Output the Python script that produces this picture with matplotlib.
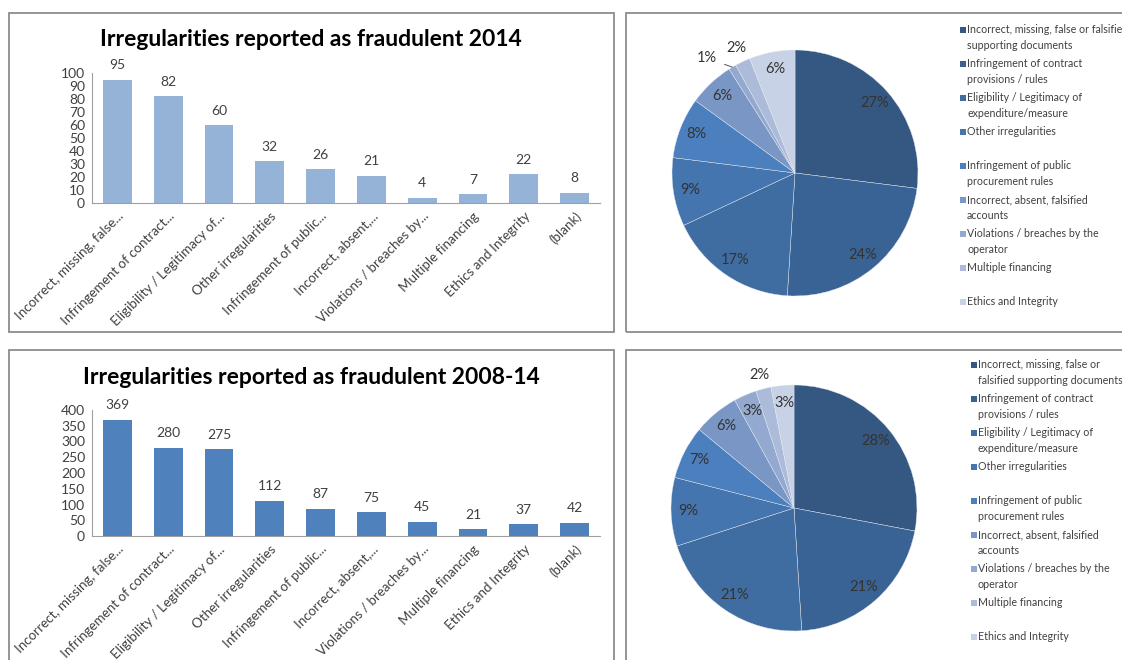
import numpy as np
import matplotlib
matplotlib.use("Agg")
import matplotlib.pyplot as plt
from matplotlib.patches import Rectangle

plt.rcParams['font.family'] = ['Lato', 'DejaVu Sans']

# ---- data ----
tick_labels = ["Incorrect, missing, false...", "Infringement of contract...",
               "Eligibility / Legitimacy of...", "Other irregularities",
               "Infringement of public...", "Incorrect, absent,...",
               "Violations / breaches by...", "Multiple financing",
               "Ethics and Integrity", "(blank)"]
counts_2014 = [95, 82, 60, 32, 26, 21, 4, 7, 22, 8]
counts_0814 = [369, 280, 275, 112, 87, 75, 45, 21, 37, 42]

pct_2014 = [27, 24, 17, 9, 8, 6, 1, 2, 6]
pct_0814 = [28, 21, 21, 9, 7, 6, 3, 2, 3]

legend_2014 = ["Incorrect, missing, false or falsified\nsupporting documents",
               "Infringement of contract\nprovisions / rules",
               "Eligibility / Legitimacy of\nexpenditure/measure",
               "Other irregularities",
               "Infringement of public\nprocurement rules",
               "Incorrect, absent, falsified\naccounts",
               "Violations / breaches by the\noperator",
               "Multiple financing",
               "Ethics and Integrity"]
legend_0814 = ["Incorrect, missing, false or\nfalsified supporting documents"] + legend_2014[1:]

pie_colors = ['#355882', '#3A6395', '#3F6DA2', '#4475AF', '#4B7FBE',
              '#7A96C5', '#94A9D0', '#ACBBDA', '#C8D2E6']
text_col = '#404040'

W, H = 1122, 660
fig = plt.figure(figsize=(W / 100, H / 100), dpi=100)


def px_axes(x0, y0, x1, y1):
    return fig.add_axes([x0 / W, 1 - y1 / H, (x1 - x0) / W, (y1 - y0) / H])


def frame(x0, y0, x1, y1):
    fig.patches.append(Rectangle((x0 / W, 1 - y1 / H), (x1 - x0) / W, (y1 - y0) / H,
                                 transform=fig.transFigure, fill=False,
                                 edgecolor='#8c8c8c', linewidth=1.3))


def bar_panel(y_top, y_bot, title_y, values, ymax, step, color, title):
    ax = px_axes(92, y_top, 600, y_bot)
    x = np.arange(len(values))
    bars = ax.bar(x, values, width=0.57, color=color)
    ax.bar_label(bars, padding=6, fontsize=10, color=text_col)
    ax.set_xlim(-0.5, len(values) - 0.5)
    ax.set_ylim(0, ymax)
    ax.set_yticks(range(0, ymax + 1, step))
    ax.set_xticks(x)
    ax.set_xticklabels(tick_labels, rotation=45, ha='right', rotation_mode='anchor',
                       fontsize=9.6, color=text_col)
    for lab in ax.get_yticklabels():
        lab.set_fontsize(10)
        lab.set_color(text_col)
    for s in ['top', 'right']:
        ax.spines[s].set_visible(False)
    for s in ['left', 'bottom']:
        ax.spines[s].set_color('#a0a0a0')
    ax.tick_params(length=0, pad=5)
    fig.text(311 / W, 1 - title_y / H, title, ha='center', va='center',
             fontsize=16.5, fontweight='bold', color='black')


def pie_panel(cx, cy, r, values, labels, lx, ly0):
    ax = px_axes(cx - r, cy - r, cx + r, cy + r)
    wedges, _ = ax.pie(values, colors=pie_colors, startangle=90, counterclock=False,
                       wedgeprops=dict(edgecolor='#e4e9f1', linewidth=0.3))
    ax.set_xlim(-1, 1)
    ax.set_ylim(-1, 1)
    for i, (w, v) in enumerate(zip(wedges, values)):
        ang = np.deg2rad((w.theta1 + w.theta2) / 2)
        txt = f"{v}%"
        if v >= 3:
            ax.text(0.86 * np.cos(ang), 0.86 * np.sin(ang), txt, ha='center',
                    va='center', fontsize=10.5, color='#333333')
        elif i + 1 < len(values) and values[i + 1] < 3:
            # neighbour also tiny: push label aside with a leader line
            a2 = ang + np.deg2rad(7)
            ax.annotate(txt, xy=(np.cos(ang), np.sin(ang)),
                        xytext=(1.18 * np.cos(a2), 1.18 * np.sin(a2)),
                        ha='center', va='center', fontsize=10.5, color='#333333',
                        arrowprops=dict(arrowstyle='-', color='#555555', lw=0.7,
                                        shrinkA=4, shrinkB=0))
        else:
            ax.text(1.12 * np.cos(ang), 1.12 * np.sin(ang), txt, ha='center',
                    va='center', fontsize=10.5, color='#333333')
    for i, lab in enumerate(labels):
        y = ly0 + i * 34
        fig.patches.append(Rectangle(((lx - 7) / W, 1 - (y + 3) / H), 6 / W, 6 / H,
                                     transform=fig.transFigure,
                                     facecolor=pie_colors[i], edgecolor='none'))
        fig.text(lx / W, 1 - (y - 6) / H, lab, ha='left', va='top', fontsize=7.7,
                 color=text_col, linespacing=1.55)


frame(9, 13, 614, 332)
frame(626, 13, 1135, 332)
frame(9, 350, 614, 675)
frame(626, 350, 1135, 675)

bar_panel(73, 203, 40, counts_2014, 100, 10, '#95B3D7',
          "Irregularities reported as fraudulent 2014")
bar_panel(410, 536, 378, counts_0814, 400, 50, '#4F81BD',
          "Irregularities reported as fraudulent 2008-14")

pie_panel(795, 173, 123, pct_2014, legend_2014, 967, 30)
pie_panel(794, 508, 123, pct_0814, legend_0814, 978, 365)

fig.savefig("out.png", dpi=100)
